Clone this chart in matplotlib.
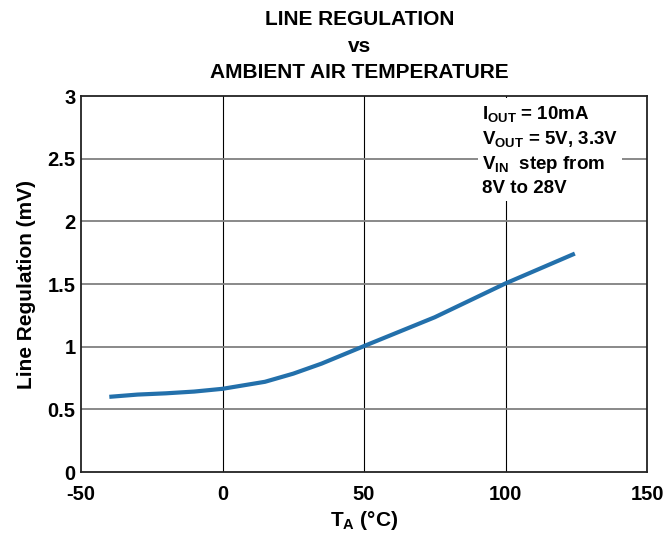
import matplotlib
matplotlib.use("Agg")
import matplotlib.pyplot as plt

plt.rcParams['font.family'] = ['Liberation Sans', 'DejaVu Sans']
plt.rcParams['font.weight'] = 'bold'
plt.rcParams['mathtext.default'] = 'bf'
plt.rcParams['mathtext.fontset'] = 'custom'
plt.rcParams['mathtext.bf'] = 'Liberation Sans:bold'
plt.rcParams['mathtext.rm'] = 'Liberation Sans:bold'
plt.rcParams['axes.unicode_minus'] = False

temp_c = [-40, -30, -20, -10, 0, 15, 25, 35, 50, 75, 100, 124.5]
line_reg_mv = [0.60, 0.618, 0.628, 0.642, 0.664, 0.72, 0.785, 0.865, 1.005, 1.235, 1.505, 1.743]
x_ticks = [-50, 0, 50, 100, 150]
y_ticks = [0, 0.5, 1, 1.5, 2, 2.5, 3]
y_tick_labels = ["0", "0.5", "1", "1.5", "2", "2.5", "3"]

fig = plt.figure(figsize=(6.63, 5.33), dpi=100)
ax = fig.add_axes([0.1222, 0.1144, 0.8537, 0.7054])

ax.set_xlim(-50, 150)
ax.set_ylim(0, 3)
ax.set_xticks(x_ticks)
ax.set_yticks(y_ticks)
ax.set_yticklabels(y_tick_labels)
ax.tick_params(axis='x', length=0, labelsize=14.5, pad=9)
ax.tick_params(axis='y', length=0, labelsize=14.5, pad=4)
for lbl in ax.get_xticklabels() + ax.get_yticklabels():
    lbl.set_fontweight('bold')

for x in x_ticks[1:-1]:
    ax.axvline(x, color='black', lw=0.8, zorder=1)
for y in y_ticks[1:-1]:
    ax.axhline(y, color='#808080', lw=1.3, zorder=1)

for s in ax.spines.values():
    s.set_linewidth(1.3)
    s.set_color('#222222')

ax.plot(temp_c, line_reg_mv, color='#2370ab', lw=3.0, zorder=3, solid_capstyle='butt')

ax.set_xlabel(r'T$_\mathbf{A}$ (°C)', fontsize=15, fontweight='bold', labelpad=4)
ax.set_ylabel('Line Regulation (mV)', fontsize=15, fontweight='bold', labelpad=8)

fig.text(0.542, 0.963, 'LINE REGULATION', ha='center', va='center', fontsize=15, fontweight='bold')
fig.text(0.542, 0.913, 'vs', ha='center', va='center', fontsize=15, fontweight='bold')
fig.text(0.542, 0.864, 'AMBIENT AIR TEMPERATURE', ha='center', va='center', fontsize=15, fontweight='bold')

txt = (r'I$_\mathbf{OUT}$ = 10mA' '\n'
       r'V$_\mathbf{OUT}$ = 5V, 3.3V' '\n'
       r'V$_\mathbf{IN}$  step from' '\n'
       '8V to 28V')
ax.text(91.8, 2.94, txt, ha='left', va='top', fontsize=13.5, fontweight='bold',
        linespacing=1.36, zorder=4,
        bbox=dict(facecolor='white', edgecolor='none', pad=3))

fig.savefig('out.png', dpi=100)
